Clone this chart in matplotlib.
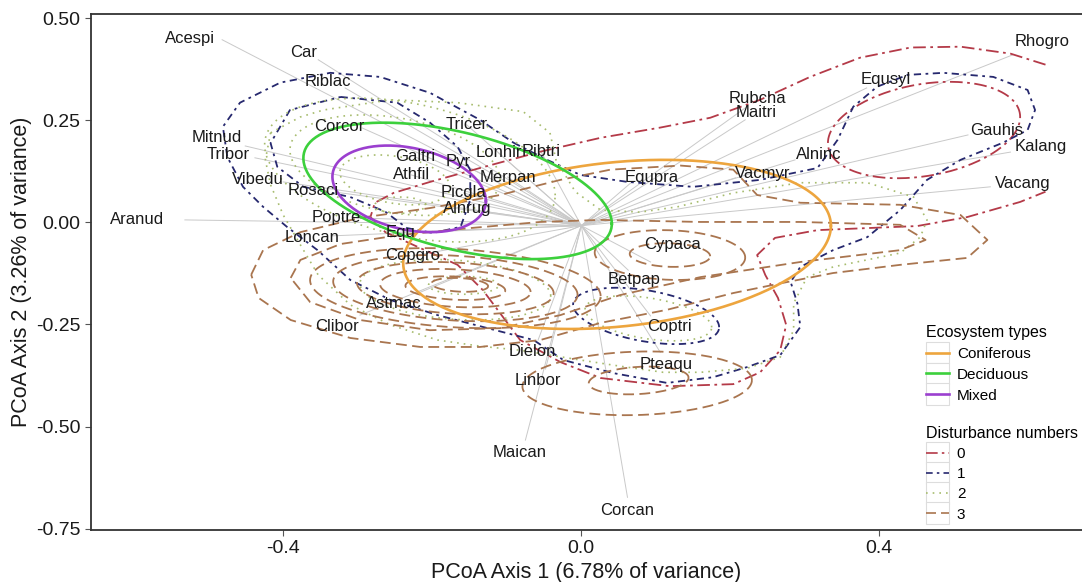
import numpy as np
import matplotlib
matplotlib.use("Agg")
import matplotlib.pyplot as plt
from matplotlib.lines import Line2D
from matplotlib.patches import Rectangle
from matplotlib.legend_handler import HandlerLine2D

# ---- species scores (segment ends) and label positions ----
species = ["Acespi", "Car", "Riblac", "Corcor", "Tricer", "Mitnud", "Tribor", "Vibedu",
           "Rosaci", "Galtri", "Pyr", "Athfil", "Picgla", "Alnrug", "Lonhir", "Ribtri",
           "Merpan", "Poptre", "Loncan", "Aranud", "Equ", "Copgro", "Astmac", "Clibor",
           "Dielon", "Linbor", "Maican", "Corcan", "Betpap", "Cypaca", "Coptri", "Pteaqu",
           "Equpra", "Vacmyr", "Alninc", "Rubcha", "Maitri", "Equsyl", "Rhogro", "Gauhis",
           "Kalang", "Vacang"]
sp_x = [-0.482, -0.353, -0.317, -0.294, -0.154, -0.451, -0.438, -0.400,
        -0.330, -0.223, -0.165, -0.228, -0.158, -0.153, -0.111, -0.054,
        -0.099, -0.301, -0.334, -0.532, -0.243, -0.226, -0.216, -0.297,
        -0.058, -0.048, -0.075, 0.062, 0.063, 0.093, 0.093, 0.106,
        0.068, 0.207, 0.287, 0.220, 0.220, 0.383, 0.579, 0.519,
        0.576, 0.549]
sp_y = [0.447, 0.398, 0.329, 0.231, 0.239, 0.187, 0.158, 0.099,
        0.074, 0.160, 0.148, 0.116, 0.072, 0.033, 0.170, 0.173,
        0.111, 0.011, -0.033, 0.006, -0.024, -0.082, -0.171, -0.227,
        -0.288, -0.359, -0.533, -0.673, -0.117, -0.097, -0.229, -0.318,
        0.099, 0.109, 0.153, 0.280, 0.251, 0.329, 0.410, 0.214,
        0.172, 0.087]
lab_x = [-0.525, -0.373, -0.340, -0.325, -0.154, -0.489, -0.474, -0.434,
         -0.360, -0.223, -0.165, -0.228, -0.158, -0.153, -0.111, -0.054,
         -0.099, -0.329, -0.361, -0.596, -0.243, -0.226, -0.252, -0.328,
         -0.066, -0.058, -0.083, 0.062, 0.071, 0.122, 0.118, 0.114,
         0.095, 0.244, 0.318, 0.236, 0.235, 0.408, 0.619, 0.558,
         0.616, 0.592]
lab_y = [0.450, 0.415, 0.344, 0.234, 0.239, 0.207, 0.165, 0.104,
         0.079, 0.160, 0.148, 0.116, 0.072, 0.033, 0.170, 0.173,
         0.111, 0.013, -0.036, 0.006, -0.024, -0.082, -0.198, -0.254,
         -0.315, -0.386, -0.563, -0.705, -0.139, -0.055, -0.254, -0.347,
         0.111, 0.119, 0.167, 0.302, 0.270, 0.349, 0.442, 0.224,
         0.185, 0.096]
origin = (0.0, -0.008)

# ---- ecosystem ellipses: centre, half ranges, correlation ----
eco_types = ["Coniferous", "Deciduous", "Mixed"]
eco_cx = [0.048, -0.166, -0.231]
eco_cy = [-0.054, 0.077, 0.082]
eco_sx = [0.287, 0.207, 0.103]
eco_sy = [0.207, 0.167, 0.106]
eco_rho = [0.22, -0.48, -0.28]

# ---- disturbance density contours ----
dist_levels = ["0", "1", "2", "3"]

# 0: outer contour (open at the grid edge) + inner loop
d0_paths = [
    [(0.623, 0.386), (0.576, 0.413), (0.509, 0.430), (0.442, 0.428), (0.374, 0.403),
     (0.307, 0.356), (0.240, 0.300), (0.173, 0.256), (0.106, 0.232), (0.026, 0.207),
     (-0.055, 0.173), (-0.136, 0.133), (-0.203, 0.099), (-0.252, 0.072), (-0.277, 0.048),
     (-0.283, 0.013), (-0.263, -0.024), (-0.216, -0.063), (-0.166, -0.104), (-0.132, -0.166),
     (-0.105, -0.232), (-0.082, -0.288), (-0.028, -0.342), (0.026, -0.381), (0.119, -0.401),
     (0.204, -0.396), (0.240, -0.367), (0.267, -0.313), (0.275, -0.251), (0.264, -0.185),
     (0.247, -0.129), (0.236, -0.080), (0.260, -0.038), (0.317, -0.019), (0.384, -0.014),
     (0.451, -0.009), (0.518, 0.013), (0.589, 0.050), (0.623, 0.075)],
]
d0_ellipses = [(0.460, 0.226, 0.129, 0.118, 0.27)]

# 1: big outer loop, inner left loop, small loop near Coptri
d1_paths = [
    [(-0.091, 0.195), (-0.046, 0.153), (-0.001, 0.116), (0.062, 0.099), (0.150, 0.087),
     (0.240, 0.104), (0.317, 0.133), (0.344, 0.202), (0.365, 0.283), (0.397, 0.332),
     (0.438, 0.361), (0.486, 0.366), (0.553, 0.356), (0.599, 0.324), (0.609, 0.275),
     (0.599, 0.226), (0.566, 0.195), (0.509, 0.153), (0.464, 0.104), (0.428, 0.030),
     (0.384, -0.036), (0.338, -0.068), (0.294, -0.109), (0.281, -0.146), (0.290, -0.198),
     (0.294, -0.256), (0.267, -0.325), (0.223, -0.354), (0.177, -0.379), (0.115, -0.393),
     (0.043, -0.369), (-0.024, -0.337), (-0.064, -0.288), (-0.132, -0.256), (-0.193, -0.227),
     (-0.256, -0.190), (-0.310, -0.141), (-0.354, -0.068), (-0.395, -0.011), (-0.427, 0.038),
     (-0.454, 0.087), (-0.475, 0.160), (-0.481, 0.234), (-0.458, 0.293), (-0.404, 0.342),
     (-0.337, 0.366), (-0.270, 0.356), (-0.203, 0.317), (-0.136, 0.251), (-0.091, 0.195)],
    [(-0.323, 0.307), (-0.247, 0.293), (-0.203, 0.244), (-0.166, 0.185), (-0.149, 0.128),
     (-0.149, 0.055), (-0.162, -0.011), (-0.199, -0.026), (-0.234, -0.014), (-0.263, 0.026),
     (-0.310, 0.062), (-0.373, 0.087), (-0.408, 0.136), (-0.417, 0.194), (-0.391, 0.275),
     (-0.323, 0.307)],
]
d1_ellipses = [(0.087, -0.229, 0.098, 0.069, -0.40)]

# 2: big outer loop + nested loops
d2_paths = [
    [(-0.417, 0.219), (-0.377, 0.258), (-0.346, 0.275), (-0.256, 0.300), (-0.166, 0.293),
     (-0.078, 0.271), (-0.042, 0.219), (-0.034, 0.153), (-0.008, 0.075), (0.026, 0.030),
     (0.079, 0.025), (0.129, 0.038), (0.204, 0.072), (0.294, 0.097), (0.384, 0.097),
     (0.446, 0.062), (0.464, 0.006), (0.455, -0.036), (0.428, -0.075), (0.338, -0.109),
     (0.303, -0.134), (0.285, -0.198), (0.285, -0.264), (0.267, -0.330), (0.223, -0.357),
     (0.160, -0.367), (0.110, -0.367), (0.052, -0.352), (-0.001, -0.337), (-0.082, -0.313),
     (-0.136, -0.303), (-0.193, -0.288), (-0.256, -0.251), (-0.310, -0.202), (-0.353, -0.129),
     (-0.377, -0.055), (-0.400, 0.018), (-0.417, 0.092), (-0.424, 0.153), (-0.417, 0.219)],
]
d2_ellipses = [(-0.230, 0.128, 0.195, 0.176, -0.35), (-0.250, 0.140, 0.141, 0.123, -0.30),
               (-0.250, 0.104, 0.074, 0.061, -0.30), (-0.243, 0.042, 0.034, 0.020, 0.0),
               (-0.169, -0.165, 0.128, 0.074, -0.2), (-0.158, -0.154, 0.047, 0.022, 0.0),
               (0.090, -0.235, 0.085, 0.055, -0.40)]

# 3: merged outer loops + three modes
d3_paths = [
    [(-0.443, -0.128), (-0.427, -0.068), (-0.377, -0.024), (-0.297, 0.011), (-0.203, 0.035),
     (-0.109, 0.067), (-0.028, 0.104), (0.039, 0.129), (0.133, 0.139), (0.204, 0.129),
     (0.236, 0.067), (0.294, 0.048), (0.428, 0.043), (0.509, 0.018), (0.545, -0.043),
     (0.518, -0.087), (0.428, -0.104), (0.338, -0.124), (0.271, -0.148), (0.204, -0.173),
     (0.115, -0.214), (0.026, -0.246), (-0.055, -0.288), (-0.136, -0.305), (-0.216, -0.305),
     (-0.310, -0.283), (-0.390, -0.239), (-0.433, -0.185), (-0.443, -0.128)],
    [(-0.390, -0.136), (-0.377, -0.092), (-0.323, -0.053), (-0.243, -0.031), (-0.149, -0.014),
     (-0.055, 0.001), (0.026, 0.006), (0.160, 0.001), (0.294, 0.001), (0.428, -0.006),
     (0.462, -0.043), (0.428, -0.068), (0.294, -0.097), (0.160, -0.134), (0.052, -0.178),
     (-0.028, -0.227), (-0.109, -0.259), (-0.203, -0.264), (-0.297, -0.239), (-0.364, -0.195),
     (-0.390, -0.136)],
]
d3_ellipses = [(-0.169, -0.161, 0.195, 0.098, -0.2), (-0.169, -0.161, 0.164, 0.081, -0.2),
               (-0.169, -0.161, 0.132, 0.064, -0.2), (-0.169, -0.161, 0.101, 0.047, -0.2),
               (-0.169, -0.161, 0.067, 0.029, -0.2), (-0.163, -0.153, 0.038, 0.017, -0.2),
               (0.119, -0.080, 0.101, 0.061, -0.1), (0.119, -0.080, 0.054, 0.029, -0.1),
               (0.075, -0.394, 0.154, 0.078, 0.1), (0.077, -0.387, 0.067, 0.034, 0.2)]

# ---- styles ----
eco_colors = ["#EDA53E", "#3CD03C", "#9B3FCF"]
dist_colors = ["#B43A48", "#26286E", "#A7BC6E", "#A9754F"]
dist_dashes = [(0, (7, 2.5, 1.5, 2.5)), (0, (4, 2.5, 1.5, 2.5)), (0, (1, 3)), (0, (6, 3))]


def ellipse_xy(cx, cy, sx, sy, rho, n=240):
    t = np.linspace(0, 2 * np.pi, n)
    x = cx + sx * np.cos(t)
    y = cy + sy * (rho * np.cos(t) + np.sqrt(1 - rho ** 2) * np.sin(t))
    return x, y


class BoxedLine(HandlerLine2D):
    # ggplot-like legend key with a light grey box behind the line
    def create_artists(self, legend, orig_handle, xdescent, ydescent, width, height, fontsize, trans):
        arts = super().create_artists(legend, orig_handle, xdescent, ydescent, width, height, fontsize, trans)
        box = Rectangle((-xdescent, -ydescent - 4), width, height + 8, facecolor="white",
                        edgecolor="#DDDDDD", lw=0.8, transform=trans)
        return [box] + list(arts)


plt.rcParams["font.family"] = ["Liberation Sans", "DejaVu Sans"]
fig = plt.figure(figsize=(10.82, 5.82), dpi=100)
ax = fig.add_axes([91 / 1082, 52 / 582, 991 / 1082, 516 / 582])

# segments from origin to species scores
for x, y in zip(sp_x, sp_y):
    ax.plot([origin[0], x], [origin[1], y], color="#C9C9C9", lw=0.7, zorder=1)

# disturbance contours
all_paths = [d0_paths, d1_paths, d2_paths, d3_paths]
all_ell = [d0_ellipses, d1_ellipses, d2_ellipses, d3_ellipses]
for i in range(4):
    lw = 1.3 if i != 2 else 1.2
    for p in all_paths[i]:
        px, py = zip(*p)
        ax.plot(px, py, color=dist_colors[i], lw=lw, linestyle=dist_dashes[i], zorder=2)
    for e in all_ell[i]:
        ex, ey = ellipse_xy(*e)
        ax.plot(ex, ey, color=dist_colors[i], lw=lw, linestyle=dist_dashes[i], zorder=2)

# ecosystem ellipses
for i in range(3):
    ex, ey = ellipse_xy(eco_cx[i], eco_cy[i], eco_sx[i], eco_sy[i], eco_rho[i])
    ax.plot(ex, ey, color=eco_colors[i], lw=1.9, zorder=3)

# species labels
for name, x, y in zip(species, lab_x, lab_y):
    ax.text(x, y, name, fontsize=12, ha="center", va="center", color="#1A1A1A", zorder=4)

ax.set_xlim(-0.658, 0.672)
ax.set_ylim(-0.753, 0.51)
ax.set_xticks([-0.4, 0.0, 0.4])
ax.set_xticklabels(["-0.4", "0.0", "0.4"])
ax.set_yticks([0.5, 0.25, 0.0, -0.25, -0.5, -0.75])
ax.set_yticklabels(["0.50", "0.25", "0.00", "-0.25", "-0.50", "-0.75"])
ax.tick_params(labelsize=14, length=4, width=0.8, color="#555555", labelcolor="#1A1A1A")
ax.set_xlabel("PCoA Axis 1 (6.78% of variance)", fontsize=15.5, color="#1A1A1A", labelpad=3)
ax.set_ylabel("PCoA Axis 2 (3.26% of variance)", fontsize=15.5, color="#1A1A1A", labelpad=3)
ax.spines["right"].set_visible(False)
for s in ["left", "top", "bottom"]:
    ax.spines[s].set_color("#333333")
    ax.spines[s].set_linewidth(1.3)

# legends
eco_handles = [Line2D([], [], color=c, lw=1.9) for c in eco_colors]
leg1 = ax.legend(eco_handles, eco_types, title="Ecosystem types", loc="upper left",
                 bbox_to_anchor=(0.832, 0.418), frameon=False, fontsize=11, title_fontsize=11.5,
                 handlelength=1.5, handletextpad=0.5, labelspacing=0.45, alignment="left",
                 borderpad=0.2, handler_map={Line2D: BoxedLine()})
ax.add_artist(leg1)
dist_handles = [Line2D([], [], color=dist_colors[i], lw=1.2, linestyle=dist_dashes[i]) for i in range(4)]
ax.legend(dist_handles, dist_levels, title="Disturbance numbers", loc="upper left",
          bbox_to_anchor=(0.832, 0.222), frameon=False, fontsize=11, title_fontsize=11.5,
          handlelength=1.5, handletextpad=0.5, labelspacing=0.4, alignment="left",
          borderpad=0.2, handler_map={Line2D: BoxedLine()})

fig.savefig("out.png", dpi=100)
